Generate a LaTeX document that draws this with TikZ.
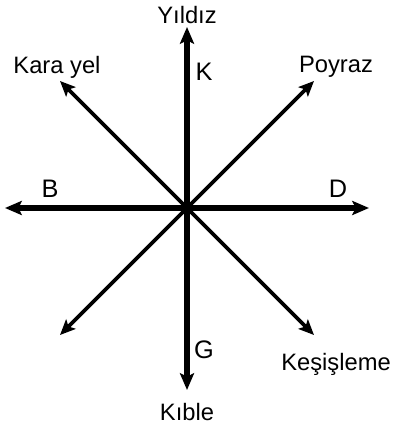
\documentclass[tikz,border=0pt]{standalone}
\usepackage{fontspec}
\setmainfont{Liberation Sans}
\usetikzlibrary{arrows.meta}
\begin{document}
\begin{tikzpicture}[x=0.75pt,y=-0.75pt,
  mainarrow/.style={line width=4.1pt,-{Stealth[length=12.5pt,width=10.5pt,inset=2.5pt]}},
  diagarrow/.style={line width=2.8pt,-{Stealth[length=11.5pt,width=10pt,inset=2.5pt]}},
  lbl/.style={font=\fontsize{17.8pt}{20pt}\selectfont, inner sep=0pt},
  bigl/.style={font=\fontsize{19pt}{22pt}\selectfont, inner sep=0pt}]
\useasboundingbox (0,0) rectangle (394,427);
\coordinate (c) at (187,208);
\coordinate (n) at (187,27);
\coordinate (s) at (187,390);
\coordinate (w) at (5,208);
\coordinate (e) at (369,208);
\coordinate (nw) at (60,81);
\coordinate (ne) at (314,81);
\coordinate (sw) at (60,335);
\coordinate (se) at (314,335);
\draw[mainarrow] (c) -- (n);
\draw[mainarrow] (c) -- (s);
\draw[mainarrow] (c) -- (w);
\draw[mainarrow] (c) -- (e);
\draw[diagarrow] (c) -- (nw);
\draw[diagarrow] (c) -- (ne);
\draw[diagarrow] (c) -- (sw);
\draw[diagarrow] (c) -- (se);
\node[lbl] (yildiz) at (187,15) {Yıldız};
\node[bigl] (k) at (204,72) {K};
\node[lbl] (karayel) at (57,67) {Kara yel};
\node[lbl] (poyraz) at (336,67) {Poyraz};
\node[bigl] (b) at (50,189) {B};
\node[bigl] (d) at (338,189) {D};
\node[bigl] (g) at (204,350) {G};
\node[lbl] (kible) at (187,412) {Kıble};
\node[lbl] (kesisleme) at (336,364) {Keşişleme};
\end{tikzpicture}
\end{document}
